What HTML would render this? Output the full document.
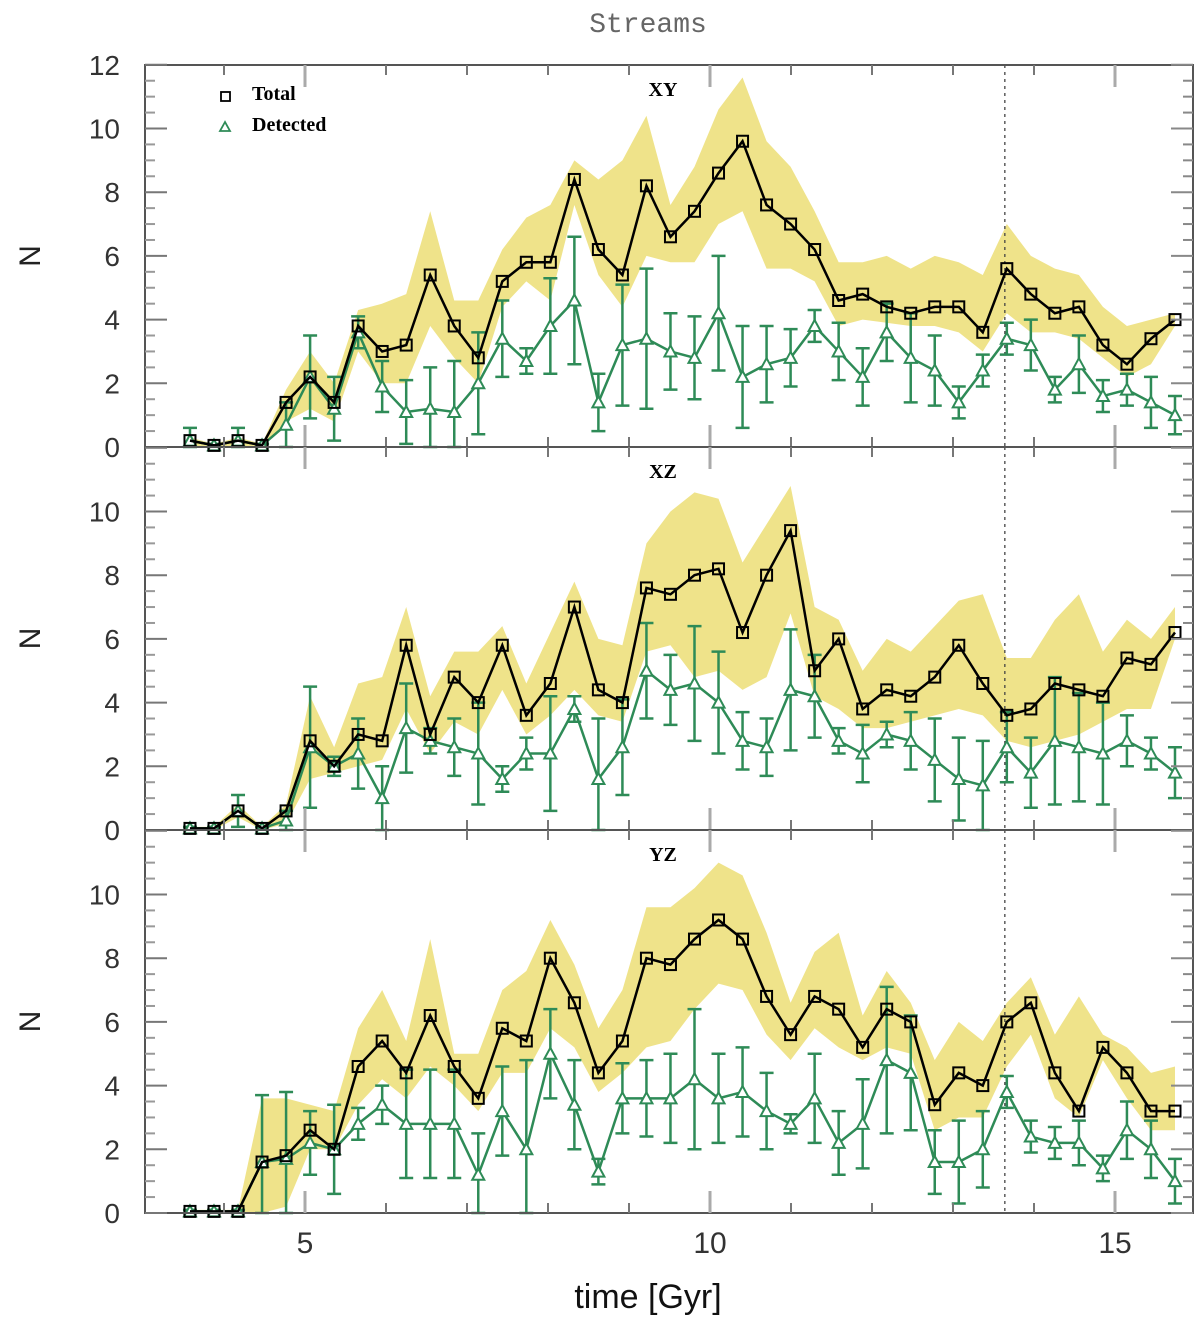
<!DOCTYPE html>
<html><head><meta charset="utf-8">
<style>
html,body{margin:0;padding:0;background:#fff;}
svg{display:block;}
</style></head>
<body>
<svg id="chart" width="1200" height="1330" xmlns="http://www.w3.org/2000/svg"></svg>
<script>
const times = Array.from({length:42},(_, i)=>3.58 + i*0.2966);
const xyTotal=[0.2,0.05,0.2,0.05,1.4,2.2,1.4,3.8,3.0,3.2,5.4,3.8,2.8,5.2,5.8,5.8,8.4,6.2,5.4,8.2,6.6,7.4,8.6,9.6,7.6,7.0,6.2,4.6,4.8,4.4,4.2,4.4,4.4,3.6,5.6,4.8,4.2,4.4,3.2,2.6,3.4,4.0];
const xyUpper=[0.3,0.1,0.3,0.1,1.8,3.0,2.0,4.3,4.5,4.8,7.4,4.6,4.6,6.2,7.2,7.6,9.0,8.4,9.0,10.4,7.6,8.8,10.6,11.6,9.6,8.8,7.4,5.8,5.8,6.0,5.6,6.0,5.8,5.4,7.0,6.0,5.6,5.4,4.4,3.8,4.0,4.2];
const xyLower=[0,0,0,0,0.8,1.2,0.8,3.0,2.0,2.0,3.8,2.8,2.0,4.4,5.2,4.6,7.6,5.4,4.4,6.0,5.8,5.8,7.0,7.4,5.6,5.6,5.2,3.8,4.0,3.9,3.8,3.8,3.6,3.0,4.2,3.6,3.6,3.4,2.8,2.2,2.6,3.8];
const xyDet=[0.2,0.05,0.2,0.05,0.7,2.2,1.2,3.6,1.9,1.1,1.2,1.1,2.0,3.4,2.7,3.8,4.6,1.4,3.2,3.4,3.0,2.8,4.2,2.2,2.6,2.8,3.8,3.0,2.2,3.6,2.8,2.4,1.4,2.4,3.4,3.2,1.8,2.6,1.6,1.8,1.4,1.0];
const xyErr=[0.4,0.05,0.4,0.05,0.7,1.3,1.0,0.5,0.8,1.0,1.3,1.6,1.6,1.2,0.4,1.5,2.0,0.9,1.9,2.2,1.2,1.3,1.8,1.6,1.2,0.9,0.5,0.9,0.9,0.9,1.4,1.1,0.5,0.5,0.5,0.8,0.4,0.9,0.5,0.5,0.8,0.6];

const xzTotal=[0.05,0.05,0.6,0.05,0.6,2.8,2.0,3.0,2.8,5.8,3.0,4.8,4.0,5.8,3.6,4.6,7.0,4.4,4.0,7.6,7.4,8.0,8.2,6.2,8.0,9.4,5.0,6.0,3.8,4.4,4.2,4.8,5.8,4.6,3.6,3.8,4.6,4.4,4.2,5.4,5.2,6.2];
const xzUpper=[0.1,0.1,0.8,0.1,0.8,4.2,2.6,4.6,4.8,7.0,4.2,5.6,5.6,6.4,4.6,6.2,7.8,6.0,5.8,9.0,10.0,10.6,10.4,8.4,9.6,10.8,7.0,6.6,5.0,6.0,5.6,6.4,7.2,7.4,5.4,5.4,6.6,7.4,5.6,6.6,6.0,7.0];
const xzLower=[0,0,0.4,0,0.2,1.6,1.8,2.0,2.2,3.8,2.4,3.4,3.0,4.4,3.0,3.6,4.4,3.6,3.4,5.6,5.8,4.8,5.0,4.4,4.8,6.8,4.2,3.8,3.2,3.2,3.4,3.6,3.8,3.6,2.8,2.6,2.8,3.0,3.4,3.8,3.8,6.0];
const xzDet=[0.05,0.05,0.6,0.05,0.3,2.6,2.0,2.4,1.0,3.2,2.8,2.6,2.4,1.6,2.4,2.4,3.8,1.6,2.6,5.0,4.4,4.6,4.0,2.8,2.6,4.4,4.2,2.8,2.4,3.0,2.8,2.2,1.6,1.4,2.6,1.8,2.8,2.6,2.4,2.8,2.4,1.8];
const xzErr=[0.05,0.05,0.5,0.05,0.3,1.9,0.3,1.1,1.0,1.4,0.4,0.9,1.6,0.4,0.5,1.8,0.4,1.9,1.5,1.5,1.1,1.8,1.6,0.9,0.9,1.9,1.3,0.4,0.9,0.4,0.9,1.3,1.3,1.4,1.1,1.1,2.0,1.7,1.6,0.8,0.5,0.8];

const yzTotal=[0.05,0.05,0.05,1.6,1.8,2.6,2.0,4.6,5.4,4.4,6.2,4.6,3.6,5.8,5.4,8.0,6.6,4.4,5.4,8.0,7.8,8.6,9.2,8.6,6.8,5.6,6.8,6.4,5.2,6.4,6.0,3.4,4.4,4.0,6.0,6.6,4.4,3.2,5.2,4.4,3.2,3.2];
const yzUpper=[0.1,0.1,0.1,3.6,3.6,3.4,3.2,5.8,7.0,5.4,8.6,5.0,5.0,7.0,7.6,9.2,7.8,5.8,7.0,9.6,9.6,10.2,11.0,10.6,8.8,6.6,8.2,8.8,6.2,7.6,6.6,4.8,6.0,5.4,6.6,7.4,5.6,6.8,5.6,5.2,4.4,4.6];
const yzLower=[0,0,0,0,0.2,2.0,2.0,3.4,4.2,3.6,4.6,4.0,3.2,4.4,4.4,5.8,5.2,3.8,4.4,5.2,5.4,6.4,7.2,7.0,5.6,4.8,5.8,5.2,4.8,5.2,5.0,2.6,3.0,3.0,4.6,5.6,3.6,3.0,4.8,3.6,2.6,2.6];
const yzDet=[0.05,0.05,0.05,1.6,1.7,2.2,2.0,2.8,3.4,2.8,2.8,2.8,1.2,3.2,2.0,5.0,3.4,1.3,3.6,3.6,3.6,4.2,3.6,3.8,3.2,2.8,3.6,2.2,2.8,4.8,4.4,1.6,1.6,2.0,3.8,2.4,2.2,2.2,1.4,2.6,2.0,1.0];
const yzErr=[0.05,0.05,0.05,2.1,2.1,1.0,1.4,0.5,0.6,1.7,1.7,1.7,1.3,1.4,2.8,1.4,1.4,0.4,1.1,1.2,1.4,2.2,1.4,1.4,1.2,0.3,1.4,1.0,1.4,2.3,1.8,1.0,1.3,1.2,0.5,0.5,0.5,0.7,0.4,0.9,0.9,0.7];

const xTicks=[5,10,15];
const yTicksTop=[0,2,4,6,8,10,12];
const yTicksLower=[0,2,4,6,8,10];
const panelNames=["XY","XZ","YZ"];
const presentDay=13.64;

const svg=document.getElementById('chart');
const NS='http://www.w3.org/2000/svg';
const L=145,R=1193;
const GREEN='#2e8b57', YEL='#efe38a';
function X(t){return 305+(t-5)*81;}
function mk(tag,attrs,parent){const e=document.createElementNS(NS,tag);for(const k in attrs)e.setAttribute(k,attrs[k]);(parent||svg).appendChild(e);return e;}
function txt(s,x,y,size,extra,parent){const e=mk('text',Object.assign({x:x,y:y,'font-size':size,'font-family':'Liberation Serif, serif','text-anchor':'middle'},extra||{}),parent);e.textContent=s;return e;}

const panels=[
 {top:65,bot:447,tot:xyTotal,up:xyUpper,lo:xyLower,det:xyDet,err:xyErr,ticks:yTicksTop},
 {top:447,bot:830,tot:xzTotal,up:xzUpper,lo:xzLower,det:xzDet,err:xzErr,ticks:yTicksLower},
 {top:830,bot:1213,tot:yzTotal,up:yzUpper,lo:yzLower,det:yzDet,err:yzErr,ticks:yTicksLower}
];
const pxPerUnit=31.85;

panels.forEach((p,pi)=>{
  const g=mk('g',{});
  
  
  const Y=v=>p.bot-v*pxPerUnit;
  // band
  let d='';
  times.forEach((t,i)=>{d+=(i?'L':'M')+X(t)+','+Y(p.up[i]);});
  for(let i=times.length-1;i>=0;i--) d+='L'+X(times[i])+','+Y(p.lo[i]);
  const band=mk('path',{d:d+'Z',fill:YEL,stroke:'none'},g);
  
  
  // dotted line
  const vl=mk('line',{x1:X(presentDay),x2:X(presentDay),y1:p.top,y2:p.bot,stroke:'#444','stroke-width':1.3,'stroke-dasharray':'3,4'},g);
  
  
  // error bars
  times.forEach((t,i)=>{
    const x=X(t),y1=Y(Math.max(0,p.det[i]-p.err[i])),y2=Y(p.det[i]+p.err[i]);
    const eb=mk('path',{d:`M${x},${y1}L${x},${y2}M${x-7},${y1}L${x+7},${y1}M${x-7},${y2}L${x+7},${y2}`,stroke:GREEN,'stroke-width':2.5,fill:'none'},g);
    
    
  });
  // detected line
  const dl=mk('polyline',{points:times.map((t,i)=>X(t)+','+Y(p.det[i])).join(' '),fill:'none',stroke:GREEN,'stroke-width':2.5},g);
  
  
  times.forEach((t,i)=>{
    const x=X(t),y=Y(p.det[i]);
    const tr=mk('polygon',{points:`${x},${y-6} ${x-6},${y+5} ${x+6},${y+5}`,fill:'#fff',stroke:GREEN,'stroke-width':2},g);
    
    
  });
  // total line
  const tl=mk('polyline',{points:times.map((t,i)=>X(t)+','+Y(p.tot[i])).join(' '),fill:'none',stroke:'#000','stroke-width':2.5},g);
  
  
  times.forEach((t,i)=>{
    const x=X(t),y=Y(p.tot[i]);
    const sq=mk('rect',{x:x-5.5,y:y-5.5,width:11,height:11,fill:'none',stroke:'#000','stroke-width':2},g);
    
    
  });
  // frame
  mk('rect',{x:L,y:p.top,width:R-L,height:p.bot-p.top,fill:'none',stroke:'#555','stroke-width':2},g);
  // y ticks
  for(let v=0;v<=12.01;v+=0.5){
    const y=Y(v); if(y<p.top-1) continue;
    const major=Math.abs(v%2)<0.01;
    mk('line',{x1:L,x2:L+(major?22:10),y1:y,y2:y,stroke:major?'#777':'#999','stroke-width':major?2:2},g);
    mk('line',{x1:R,x2:R-(major?22:10),y1:y,y2:y,stroke:'#888','stroke-width':2},g);
  }
  p.ticks.forEach(v=>{
    const lb=txt(String(v),120,Y(v)+10,28,{'text-anchor':'end',fill:'#333','font-family':'Liberation Sans, sans-serif','font-weight':'300'},g);
    
    
  });
  // x ticks
  for(let t=4;t<=15;t++){
    const x=X(t),major=xTicks.includes(t);
    mk('line',{x1:x,x2:x,y1:p.bot,y2:p.bot-(major?22:10),stroke:major?'#aaa':'#777','stroke-width':major?3:2},g);
    mk('line',{x1:x,x2:x,y1:p.top,y2:p.top+(major?22:10),stroke:major?'#aaa':'#777','stroke-width':major?3:2},g);
  }
  const pl=txt(panelNames[pi],663,p.top+31,20,{'font-weight':'bold'},g);
  
  
  const yl=txt('N',0,0,30,{transform:`translate(40,${(p.top+p.bot)/2}) rotate(-90)`,'font-family':'Liberation Sans, sans-serif',fill:'#222'},g);
  
  
});

xTicks.forEach(t=>{
  const lb=txt(String(t),X(t),1253,30,{fill:'#333','font-family':'Liberation Sans, sans-serif'});
  
  
});
const xt=txt('time [Gyr]',648,1308,34,{'font-family':'Liberation Sans, sans-serif',fill:'#111'});


const tt=txt('Streams',648,32,28,{fill:'#666','font-family':'Liberation Mono, monospace'});



// legend
const lg=mk('g',{});


mk('rect',{x:221,y:92,width:9,height:9,fill:'none',stroke:'#000','stroke-width':1.8},lg);
const l1=txt('Total',252,100,20,{'text-anchor':'start','font-weight':'bold'},lg);


mk('polygon',{points:'225,122 220,131 230,131',fill:'none',stroke:GREEN,'stroke-width':1.8},lg);
const l2=txt('Detected',252,131,20,{'text-anchor':'start','font-weight':'bold'},lg);


</script>
</body></html>
